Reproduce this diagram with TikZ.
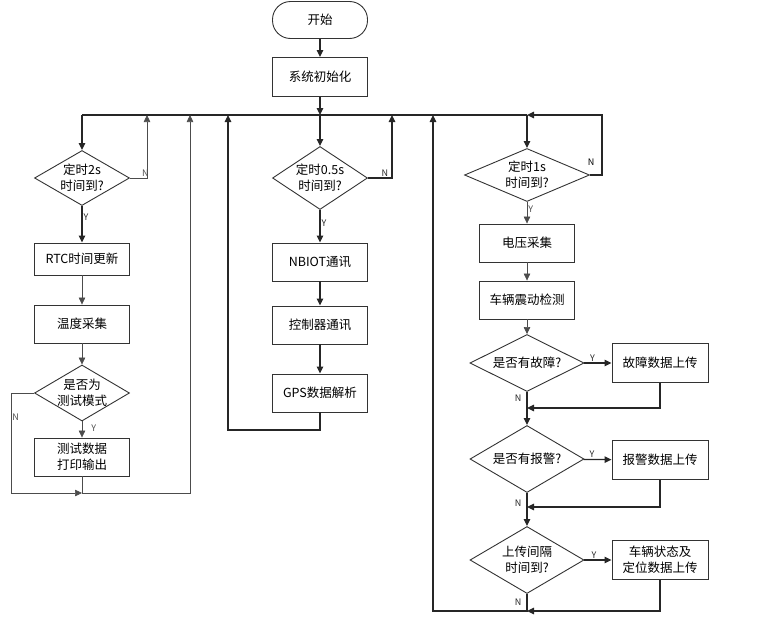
\documentclass[tikz,border=0pt]{standalone}
\usepackage{fontspec}
\newfontfamily\cjk{Noto Sans CJK SC}
\usetikzlibrary{shapes.geometric, arrows.meta}

\begin{document}
\begin{tikzpicture}[x=1pt, y=-1pt, >={Triangle[length=7pt,width=6.5pt]},
    font=\cjk\fontsize{12.5}{16}\selectfont,
    box/.style={draw=black!80, line width=0.9pt, minimum width=95pt, minimum height=38pt, inner sep=1pt, align=center},
    dia/.style={draw=black!80, line width=0.9pt, diamond, shape aspect=1.8, inner sep=-2pt, minimum width=95pt, minimum height=55pt, align=center},
    thk/.style={line width=1.2pt, black!85},
    thn/.style={line width=0.6pt, black!70},
    yn/.style={font=\cjk\fontsize{9}{10}\selectfont, inner sep=1pt}]
    \useasboundingbox (0,0) rectangle (757,624); %画布大小
%   \draw[lightgray, very thin] (0,0) grid[step=50] (757,624); %作网格
    \node[box, rounded corners=18pt, minimum height=37pt] (st) at (320,20) {开始};
    \node[box, minimum height=39pt] (init) at (320,77) {系统初始化};
    \coordinate (bus) at (320,115); %汇合线
    % 三个定时判断
    \node[dia] (tt) at (82,178) {定时2s\\时间到?};
    \node[dia, minimum height=63pt] (hh) at (320,178) {定时0.5s\\时间到?};
    \node[dia, minimum width=125pt, minimum height=53pt] (ss) at (527,175) {定时1s\\时间到?};
    % 左列
    \node[box, minimum height=32pt] (rtc) at (82,259) {RTC时间更新};
    \node[box] (temp) at (82,324) {温度采集};
    \node[dia, minimum height=56pt] (mode) at (82,393) {是否为\\测试模式};
    \node[box] (prt) at (82,457) {测试数据\\打印输出};
    % 中列
    \node[box] (nb) at (320,262) {NBIOT通讯};
    \node[box] (ctl) at (320,325) {控制器通讯};
    \node[box] (gps) at (320,393) {GPS数据解析};
    % 右列
    \node[box] (volt) at (527,243) {电压采集};
    \node[box] (vib) at (527,300) {车辆震动检测};
    \node[dia, minimum width=114pt, minimum height=57pt] (flt) at (527,363) {是否有故障?};
    \node[dia, minimum width=114pt, minimum height=67pt] (alm) at (527,459) {是否有报警?};
    \node[dia, minimum width=114pt, minimum height=67pt] (upl) at (527,560) {上传间隔\\时间到?};
    \node[box, minimum width=96pt, minimum height=39pt] (fup) at (660,363) {故障数据上传};
    \node[box, minimum width=96pt, minimum height=39pt] (aup) at (660,460) {报警数据上传};
    \node[box, minimum width=96pt, minimum height=39pt] (sup) at (660,560) {车辆状态及\\定位数据上传};
    % 回线的拐点
    \coordinate (n1) at (147,115); \coordinate (n2) at (392,115); \coordinate (n3) at (602,115);
    \coordinate (up1) at (190,115); \coordinate (up2) at (228,115); \coordinate (up3) at (433,115);
    \coordinate (lw) at (11,493); \coordinate (lb) at (82,493); \coordinate (mb) at (320,430);
    \coordinate (j1) at (527,408); \coordinate (j2) at (527,507); \coordinate (j3) at (527,611);
    % 主干
    \draw[thk, ->] (st) -- (init);
    \draw[thk, ->] (init) -- (bus);
    \draw[thk] (tt |- bus) -- (ss |- bus);
    \draw[thk, ->] (tt |- bus) -- (tt.north);
    \draw[thk, ->] (bus) -- (hh.north);
    \draw[thk, ->] (ss |- bus) -- (ss.north);
    % 定时未到
    \draw[thn, ->] (tt.east) -| node[yn, above, pos=0.45] {N} (n1);
    \draw[thk, ->] (hh.east) -| node[yn, above, pos=0.35] {N} (n2);
    \draw[thk, ->] (ss.east) -| (n3) -- (ss |- bus);
    \node[yn] (nn3) at (591,162) {N};
    % 左列连线
    \draw[thk, ->] (tt) -- node[yn, right, pos=0.3] {Y} (rtc);
    \draw[thn, ->] (rtc) -- (temp);
    \draw[thn, ->] (temp) -- (mode);
    \draw[thn, ->] (mode) -- node[yn, right=8pt, pos=0.4] {Y} (prt);
    \draw[thn, ->] (mode.west) -| node[yn, right, pos=0.62] {N} (lw) -- (lb);
    \draw[thn, ->] (prt.south) -- (lb) -| (up1);
    % 中列连线
    \draw[thk, ->] (hh) -- node[yn, right, pos=0.4] {Y} (nb);
    \draw[thk, ->] (nb) -- (ctl);
    \draw[thk, ->] (ctl) -- (gps);
    \draw[thk, ->] (gps.south) -- (mb) -| (up2);
    % 右列连线
    \draw[thn, ->] (ss) -- node[yn, right, pos=0.35] {Y} (volt);
    \draw[thn, ->] (volt) -- (vib);
    \draw[thn, ->] (vib) -- (flt);
    \draw[thk, ->] (flt) -- node[yn, above, pos=0.3] {Y} (fup);
    \draw[thk, ->] (fup.south) |- (j1);
    \draw[thk, ->] (flt) -- node[yn, left=4pt, pos=0.2] {N} (alm);
    \draw[thk, ->] (alm) -- node[yn, above, pos=0.3] {Y} (aup);
    \draw[thk, ->] (aup.south) |- (j2);
    \draw[thk, ->] (alm) -- node[yn, left=4pt, pos=0.3] {N} (upl);
    \draw[thk, ->] (upl) -- node[yn, above, pos=0.35] {Y} (sup);
    \draw[thk, ->] (sup.south) |- (j3);
    \draw[thk, ->] (upl.south) -- node[yn, left=4pt] {N} (j3) -| (up3);
\end{tikzpicture}
\end{document}
